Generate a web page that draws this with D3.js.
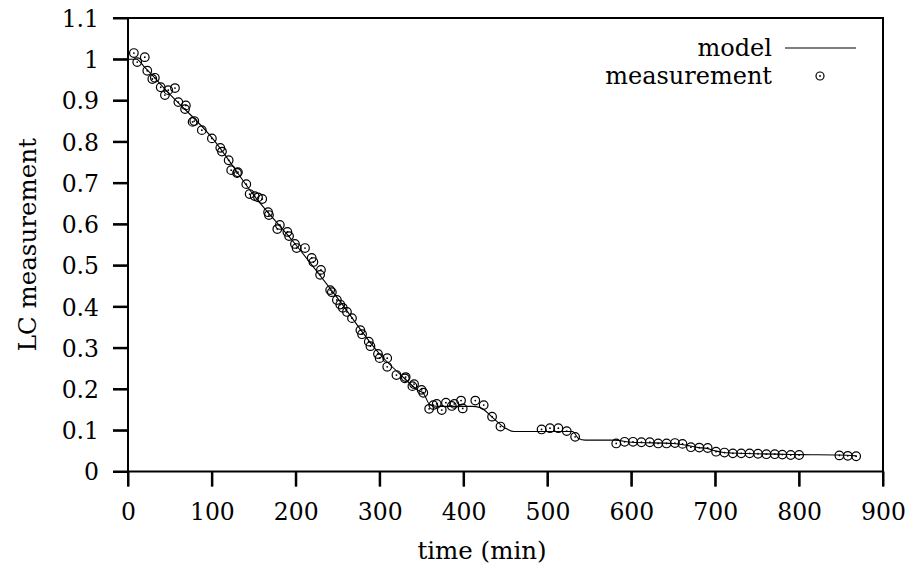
<!DOCTYPE html>
<html><head><meta charset="utf-8">
<script src="https://cdn.jsdelivr.net/npm/d3@7"></script>
<style>body{margin:0;background:#fff}svg{display:block}text{font-family:"DejaVu Serif",serif;fill:#000}</style>
</head><body>
<script>
const measTime = [7,11,20,23,29,32,39,44,48,56,60,68,69,77,79,88,100,110,112,120,123,130,131,141,145,151,155,160,167,168,178,181,190,192,199,201,211,219,221,229,230,241,243,249,253,256,261,267,277,279,287,289,298,300,309,309,320,330,331,339,341,350,352,359,364,368,374,379,386,389,397,399,414,424,434,444,493,503,513,523,533,
582,592,602,612,622,632,642,652,661,671,681,691,701,711,721,731,741,751,761,771,780,790,800,848,858,868];
const measValue = [1.015,0.993,1.005,0.972,0.952,0.955,0.932,0.913,0.925,0.930,0.896,0.879,0.888,0.848,0.850,0.828,0.808,0.785,0.776,0.755,0.731,0.724,0.726,0.697,0.673,0.668,0.665,0.661,0.629,0.622,0.588,0.598,0.581,0.571,0.552,0.542,0.542,0.518,0.508,0.477,0.489,0.440,0.435,0.416,0.405,0.397,0.387,0.372,0.343,0.333,0.315,0.304,0.285,0.275,0.275,0.254,0.234,0.226,0.229,0.207,0.212,0.198,0.191,0.152,0.161,0.164,0.149,0.167,0.159,0.164,0.172,0.153,0.172,0.161,0.133,0.109,0.102,0.105,0.105,0.098,0.084,
0.068,0.072,0.072,0.071,0.071,0.068,0.068,0.069,0.067,0.059,0.058,0.057,0.048,0.046,0.044,0.044,0.044,0.043,0.042,0.042,0.041,0.040,0.040,0.039,0.038,0.037];
const modelTime  = [0,10,20,50,100,150,200,250,300,330,345,352,360,370,410,420,435,450,460,530,537,545,580,600,650,665,680,690,700,710,720,800,848,868];
const modelValue = [1.0,1.0,0.98,0.915,0.81,0.67,0.55,0.42,0.285,0.225,0.198,0.19,0.162,0.158,0.158,0.155,0.13,0.105,0.097,0.097,0.08,0.076,0.076,0.071,0.068,0.064,0.058,0.056,0.05,0.046,0.045,0.041,0.040,0.038];
const xTicks = [0,100,200,300,400,500,600,700,800,900];
const yTicks = [0,0.1,0.2,0.3,0.4,0.5,0.6,0.7,0.8,0.9,1,1.1];

const W=909,H=573, L=128, R=883, T=18, B=471.5;
const svg=d3.select("body").append("svg").attr("width",W).attr("height",H);
const x=d3.scaleLinear().domain([0,900]).range([L,R]);
const y=d3.scaleLinear().domain([0,1.1]).range([B,T]);
const fs=23.5;

const xa=svg.append("g").attr("transform",`translate(0,${B})`)
  .call(d3.axisBottom(x).tickValues(xTicks).tickFormat(d3.format("d")).tickSize(15).tickPadding(17));
const ya=svg.append("g").attr("transform",`translate(${L},0)`)
  .call(d3.axisLeft(y).tickValues(yTicks).tickFormat(d=>String(+d.toFixed(1))).tickSize(15).tickPadding(14));
[xa,ya].forEach(a=>{a.select(".domain").remove();
  a.selectAll(".tick line").attr("stroke","#000").attr("stroke-width",2);
  a.selectAll("text").attr("font-family","DejaVu Serif").attr("font-size",fs).attr("fill","#000");});
ya.selectAll("text").attr("dy","0.36em");
// explicit outward tick marks
svg.append("g").selectAll("line").data(xTicks).join("line")
  .attr("x1",d=>x(d)).attr("x2",d=>x(d)).attr("y1",B).attr("y2",B+15).attr("stroke","#000").attr("stroke-width",2);
svg.append("g").selectAll("line").data(yTicks).join("line")
  .attr("y1",d=>y(d)).attr("y2",d=>y(d)).attr("x1",L-15).attr("x2",L).attr("stroke","#000").attr("stroke-width",2);
svg.append("rect").attr("x",L).attr("y",T).attr("width",R-L).attr("height",B-T)
  .attr("fill","none").attr("stroke","#000").attr("stroke-width",2);

const line=d3.line().x((d,i)=>x(modelTime[i])).y((d,i)=>y(modelValue[i])).curve(d3.curveMonotoneX);
svg.append("path").attr("d",line(modelValue)).attr("fill","none").attr("stroke","#000").attr("stroke-width",1.1);

const pts=svg.append("g");
measTime.forEach((t,i)=>{
  pts.append("circle").attr("cx",x(t)).attr("cy",y(measValue[i])).attr("r",4.3).attr("fill","none").attr("stroke","#000").attr("stroke-width",1.2);
  pts.append("circle").attr("cx",x(t)).attr("cy",y(measValue[i])).attr("r",0.9).attr("fill","#000");
});

// legend
svg.append("text").attr("x",772).attr("y",56).attr("text-anchor","end").attr("font-size",fs+0.5).text("model");
svg.append("line").attr("x1",785).attr("x2",856).attr("y1",48).attr("y2",48).attr("stroke","#000").attr("stroke-width",1.1);
svg.append("text").attr("x",772).attr("y",84).attr("text-anchor","end").attr("font-size",fs+0.5).text("measurement");
svg.append("circle").attr("cx",820).attr("cy",76).attr("r",4).attr("fill","none").attr("stroke","#000").attr("stroke-width",1.2);
svg.append("circle").attr("cx",820).attr("cy",76).attr("r",0.9).attr("fill","#000");

svg.append("text").attr("x",482).attr("y",559).attr("text-anchor","middle").attr("font-size",fs+1).text("time (min)");
svg.append("text").attr("transform",`translate(36,${(T+B)/2}) rotate(-90)`).attr("text-anchor","middle").attr("font-size",fs+1).text("LC measurement");
</script>
</body></html>
